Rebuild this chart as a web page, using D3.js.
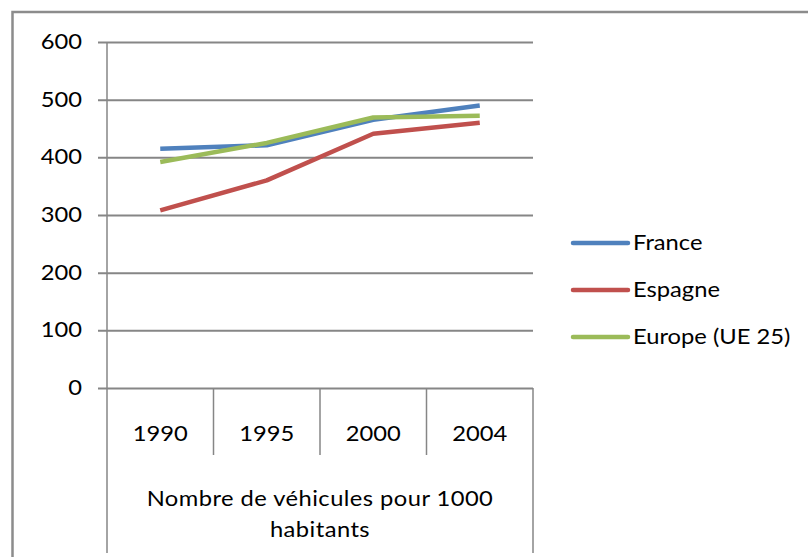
<!DOCTYPE html>
<html>
<head>
<meta charset="utf-8">
<script src="https://cdn.jsdelivr.net/npm/d3@7"></script>
<style>
  body { margin: 0; background: #fff; }
  text { font-family: Lato, "Open Sans", sans-serif; fill: #000; }
</style>
</head>
<body>
<div id="chart"></div>
<script>
// data
const years = ['1990', '1995', '2000', '2004'];
const france = [415, 421, 465, 490];
const espagne = [308, 360, 441, 460];
const europe = [392, 425, 469, 472];
const seriesNames = ['France', 'Espagne', 'Europe (UE 25)'];
const seriesColors = ['#4f81bd', '#c0504d', '#9bbb59'];
const yTicks = [0, 100, 200, 300, 400, 500, 600];
const titleLines = ['Nombre de véhicules pour 1000', 'habitants'];

const width = 808, height = 557;
const plot = { left: 107, right: 533, top: 42, bottom: 388 };
const gridColor = '#868686';
const fontSize = 21;
const stretch = 1.13; // the original text is drawn a bit wide

const svg = d3.select('#chart')
  .append('svg')
  .attr('width', width)
  .attr('height', height);

svg.append('rect')
  .attr('width', width)
  .attr('height', height)
  .attr('fill', '#fff');

// outer frame (only top and left edges are visible)
svg.append('path')
  .attr('d', 'M12.5,' + height + 'V12H' + width)
  .attr('fill', 'none')
  .attr('stroke', '#8c8c8c')
  .attr('stroke-width', 2.5);

const x = d3.scaleBand().domain(years).range([plot.left, plot.right]);
const y = d3.scaleLinear().domain([0, 600]).range([plot.bottom, plot.top]);

// helper: text stretched horizontally around its anchor point
function label(g, tx, ty, str, anchor) {
  return g.append('text')
    .attr('transform', 'translate(' + tx + ',' + ty + ') scale(' + stretch + ',1)')
    .attr('text-anchor', anchor)
    .attr('font-size', fontSize)
    .text(str);
}

// y axis with gridlines
const yAxis = svg.append('g')
  .attr('transform', 'translate(' + plot.left + ',0)')
  .call(d3.axisLeft(y).tickValues(yTicks).tickSize(-(plot.right - plot.left)).tickSizeOuter(0).tickFormat(''));
yAxis.select('.domain').remove();
yAxis.selectAll('.tick line')
  .attr('x1', -9)
  .attr('stroke', gridColor)
  .attr('stroke-width', 2);

const tickLabels = svg.append('g');
yTicks.forEach(function (t) {
  label(tickLabels, 82, y(t) + 7, t, 'end');
});

// table lines under the plot
const lines = svg.append('g')
  .attr('stroke', gridColor)
  .attr('stroke-width', 1.5);
lines.append('line')
  .attr('x1', plot.left).attr('x2', plot.left)
  .attr('y1', plot.top).attr('y2', 553);
lines.append('line')
  .attr('x1', plot.right).attr('x2', plot.right)
  .attr('y1', plot.bottom).attr('y2', 553);
lines.selectAll('.sep')
  .data(years.slice(1))
  .enter()
  .append('line')
  .attr('class', 'sep')
  .attr('x1', d => x(d)).attr('x2', d => x(d))
  .attr('y1', plot.bottom).attr('y2', 455);

// category labels
const catLabels = svg.append('g');
years.forEach(function (yr) {
  label(catLabels, x(yr) + x.bandwidth() / 2, 441, yr, 'middle');
});

// axis title in the table
const midX = (plot.left + plot.right) / 2;
titleLines.forEach(function (s, i) {
  label(svg, midX, 506 + i * 31, s, 'middle').attr('letter-spacing', 0.4);
});

// series lines
const allSeries = [france, espagne, europe];
const line = d3.line()
  .x((d, i) => x(years[i]) + x.bandwidth() / 2)
  .y(d => y(d));

svg.append('g')
  .selectAll('path')
  .data(allSeries)
  .enter()
  .append('path')
  .attr('d', line)
  .attr('fill', 'none')
  .attr('stroke', (d, i) => seriesColors[i])
  .attr('stroke-width', 4.5)
  .attr('stroke-linejoin', 'round');

// legend
const legend = svg.append('g')
  .selectAll('.legend')
  .data(seriesNames)
  .enter()
  .append('g')
  .attr('class', 'legend')
  .attr('transform', (d, i) => 'translate(573,' + (243 + i * 47) + ')');

legend.append('line')
  .attr('x1', 0).attr('x2', 55)
  .attr('stroke', (d, i) => seriesColors[i])
  .attr('stroke-width', 4.5)
  .attr('stroke-linecap', 'round');

legend.each(function (d) {
  label(d3.select(this), 60, 7, d, 'start');
});
</script>
</body>
</html>
